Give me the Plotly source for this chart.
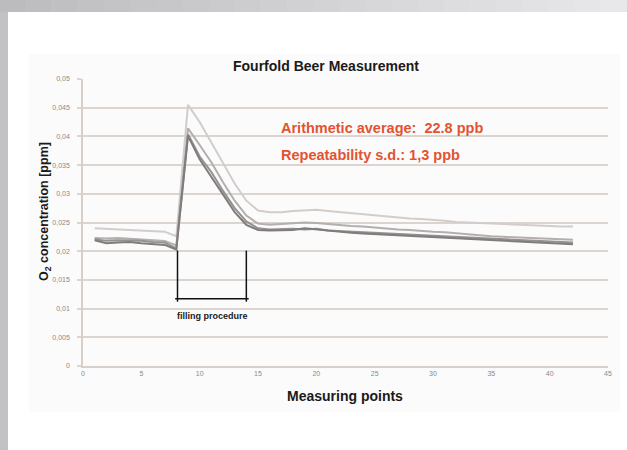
import plotly.graph_objects as go

W, H = 627, 450
ML, MR, MT, MB = 83, 19, 79, 84

measuring_points = list(range(1, 43))

beer_1 = [0.0240, 0.0239, 0.0238, 0.0238, 0.0237, 0.0236, 0.0234, 0.0226, 0.0455, 0.0425,
          0.0390, 0.0355, 0.0318, 0.0288, 0.0271, 0.0268, 0.0268, 0.0270, 0.0271, 0.0272,
          0.0270, 0.0268, 0.0266, 0.0264, 0.0262, 0.0260, 0.0258, 0.0257, 0.0256, 0.0255,
          0.0253, 0.0251, 0.0250, 0.0249, 0.0248, 0.0247, 0.0246, 0.0245, 0.0245, 0.0244,
          0.0243, 0.0243]
beer_2 = [0.0223, 0.0222, 0.0223, 0.0222, 0.0221, 0.0219, 0.0218, 0.0210, 0.0414, 0.0385,
          0.0355, 0.0320, 0.0288, 0.0262, 0.0248, 0.0246, 0.0247, 0.0249, 0.0250, 0.0249,
          0.0247, 0.0245, 0.0244, 0.0243, 0.0241, 0.0240, 0.0238, 0.0237, 0.0235, 0.0234,
          0.0233, 0.0231, 0.0230, 0.0228, 0.0226, 0.0225, 0.0224, 0.0223, 0.0222, 0.0221,
          0.0220, 0.0220]
beer_3 = [0.0221, 0.0218, 0.0219, 0.0219, 0.0218, 0.0216, 0.0215, 0.0205, 0.0404, 0.0365,
          0.0338, 0.0305, 0.0275, 0.0252, 0.0240, 0.0238, 0.0239, 0.0239, 0.0238, 0.0239,
          0.0236, 0.0235, 0.0234, 0.0233, 0.0232, 0.0231, 0.0229, 0.0228, 0.0227, 0.0226,
          0.0225, 0.0224, 0.0223, 0.0222, 0.0221, 0.0220, 0.0219, 0.0218, 0.0217, 0.0216,
          0.0215, 0.0215]
beer_4 = [0.0219, 0.0214, 0.0215, 0.0216, 0.0214, 0.0213, 0.0211, 0.0203, 0.0401, 0.0360,
          0.0330, 0.0298, 0.0268, 0.0246, 0.0237, 0.0236, 0.0237, 0.0237, 0.0240, 0.0238,
          0.0236, 0.0233, 0.0232, 0.0231, 0.0230, 0.0229, 0.0228, 0.0227, 0.0225, 0.0224,
          0.0223, 0.0222, 0.0221, 0.0220, 0.0219, 0.0218, 0.0217, 0.0216, 0.0215, 0.0214,
          0.0213, 0.0212]

y_tick_vals = [0, 0.005, 0.01, 0.015, 0.02, 0.025, 0.03, 0.035, 0.04, 0.045, 0.05]
y_tick_text = ["0", "0,005", "0,01", "0,015", "0,02", "0,025", "0,03", "0,035", "0,04", "0,045", "0,05"]
x_tick_vals = [0, 5, 10, 15, 20, 25, 30, 35, 40, 45]

series = [
    ("Measurement 1", beer_1, "#d2cdca"),
    ("Measurement 2", beer_2, "#b3afad"),
    ("Measurement 3", beer_3, "#959190"),
    ("Measurement 4", beer_4, "#7f7c7b"),
]

FONT = "Liberation Sans, Arial, sans-serif"

def px(x):
    return (x - ML) / (W - ML - MR)

def py(y):
    return (H - MB - y) / (H - MT - MB)

fig = go.Figure()
for name, vals, col in series:
    fig.add_trace(go.Scatter(x=measuring_points, y=vals, mode="lines", name=name,
                             line=dict(color=col, width=2)))

shapes = []
# top gradient band
n = 24
c0 = (188, 188, 190)
c1 = (232, 232, 234)
for i in range(n):
    t = i / (n - 1)
    c = tuple(int(round(c0[k] + (c1[k] - c0[k]) * t)) for k in range(3))
    shapes.append(dict(type="rect", xref="paper", yref="paper",
                       x0=px(W * i / n), x1=px(W * (i + 1) / n + 0.5), y0=py(12), y1=py(0),
                       fillcolor="rgb(%d,%d,%d)" % c, line_width=0, layer="below"))
# left strip
shapes.append(dict(type="rect", xref="paper", yref="paper", x0=px(0), x1=px(8), y0=py(H), y1=py(12),
                   fillcolor="#c2c2c4", line_width=0, layer="below"))
# chart area
shapes.append(dict(type="rect", xref="paper", yref="paper", x0=px(29), x1=px(620), y0=py(412), y1=py(54),
                   fillcolor="#fbfbfb", line_width=0, layer="below"))
# filling procedure bracket
for xv in (8.1, 14.0):
    shapes.append(dict(type="line", xref="x", yref="y", x0=xv, x1=xv, y0=0.0201, y1=0.0112,
                       line=dict(color="#111111", width=1.5)))
shapes.append(dict(type="line", xref="x", yref="y", x0=7.9, x1=14.2, y0=0.0117, y1=0.0117,
                   line=dict(color="#111111", width=1.5)))

annotations = [
    dict(text="<b>Fourfold Beer Measurement</b>", xref="paper", yref="paper", x=px(326), y=py(66),
         showarrow=False, font=dict(family=FONT, size=14, color="#1a1a1a"), xanchor="center", yanchor="middle"),
    dict(text="<b>Measuring points</b>", xref="paper", yref="paper", x=px(345), y=py(396),
         showarrow=False, font=dict(family=FONT, size=14, color="#1a1a1a"), xanchor="center", yanchor="middle"),
    dict(text="<b>O<sub>2</sub> concentration [ppm]</b>", xref="paper", yref="paper", x=px(45), y=py(212),
         showarrow=False, textangle=-90, font=dict(family=FONT, size=12.5, color="#1a1a1a"),
         xanchor="center", yanchor="middle"),
    dict(text="<b>Arithmetic average:  22.8 ppb</b>", xref="paper", yref="paper", x=px(279), y=py(128),
         showarrow=False, font=dict(family=FONT, size=14.5, color="#e2532f"), xanchor="left", yanchor="middle"),
    dict(text="<b>Repeatability s.d.: 1,3 ppb</b>", xref="paper", yref="paper", x=px(279), y=py(155),
         showarrow=False, font=dict(family=FONT, size=14.5, color="#e2532f"), xanchor="left", yanchor="middle"),
    dict(text="<b>filling procedure</b>", xref="x", yref="paper", x=11.1, y=py(316),
         showarrow=False, font=dict(family=FONT, size=9, color="#1a1a1a"), xanchor="center", yanchor="middle"),
]

fig.update_layout(
    width=W, height=H,
    margin=dict(l=ML, r=MR, t=MT, b=MB),
    paper_bgcolor="#ffffff",
    plot_bgcolor="rgba(0,0,0,0)",
    showlegend=False,
    shapes=shapes,
    annotations=annotations,
    xaxis=dict(range=[0, 45], tickvals=x_tick_vals, showgrid=False, zeroline=False,
               showline=True, linecolor="#d6cfca", linewidth=1.5,
               ticks="", tickfont=dict(family=FONT, size=7, color="#8a8a8a")),
    yaxis=dict(range=[0, 0.05], tickvals=y_tick_vals, ticktext=y_tick_text,
               showgrid=True, gridcolor="#dcd4cf", gridwidth=1.5, zeroline=False,
               showline=True, linecolor="#d6cfca", linewidth=1.5,
               ticks="outside", ticklen=4, tickcolor="#dcd4cf", tickwidth=1.5,
               ticklabelstandoff=6,
               tickfont=dict(family=FONT, size=7, color="#8a8a8a")),
)

fig.write_html("out.html", config={"displayModeBar": False},
               post_script="document.body.style.margin='0';document.body.style.overflow='hidden';")
